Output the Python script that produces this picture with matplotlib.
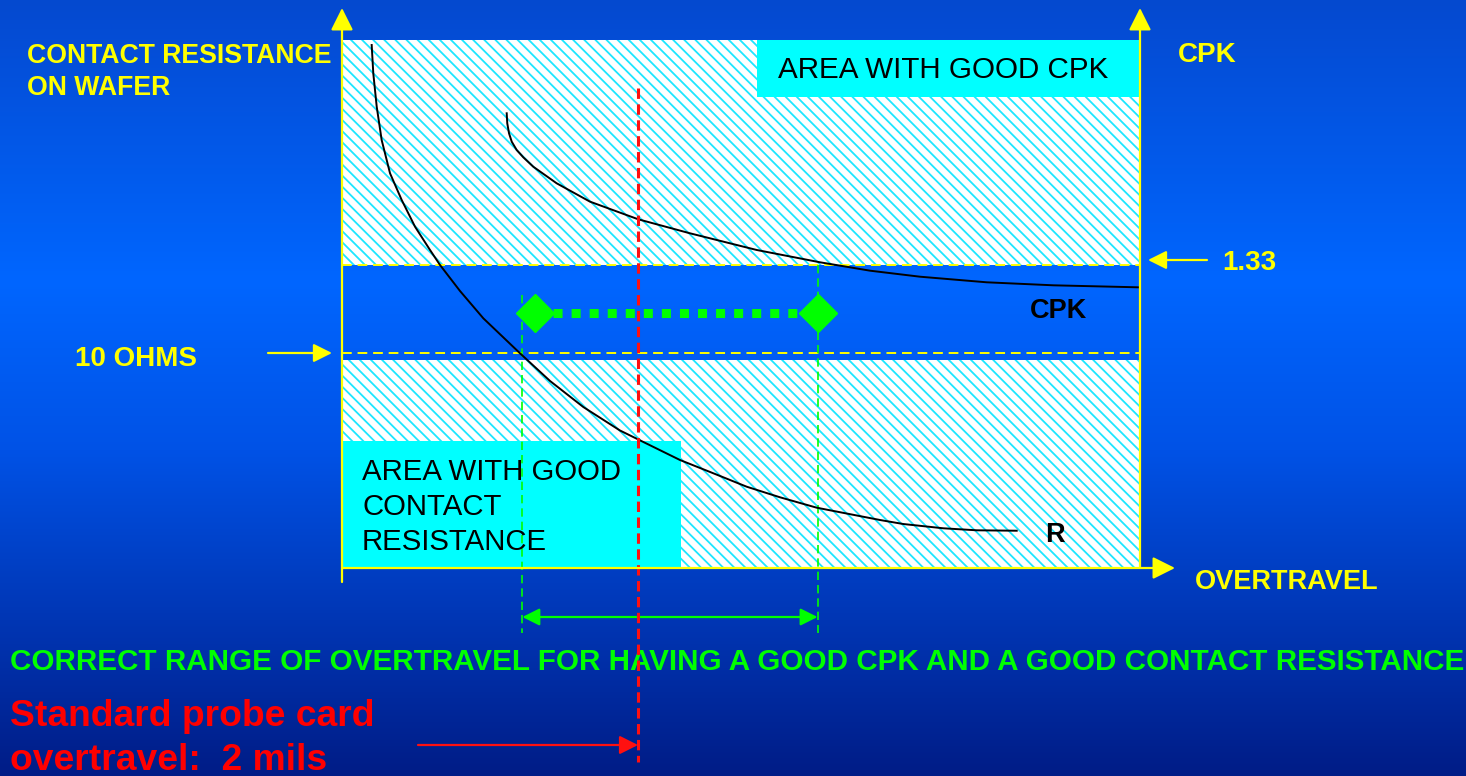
import numpy as np
import matplotlib.pyplot as plt
from matplotlib.patches import Rectangle
from matplotlib.colors import to_rgb

# curves drawn in "chart units": overtravel 0..10 across the frame, level 0..10 up the frame
r_x = [0.372, 0.392, 0.435, 0.497, 0.602, 0.748, 0.915, 1.103, 1.228, 1.479, 1.771,
       2.231, 2.607, 3.024, 3.484, 3.726, 4.236, 4.653, 5.071, 5.489, 5.949, 6.742,
       7.034, 7.535, 7.954, 8.455]
r_y = [9.905, 9.369, 8.737, 8.106, 7.475, 6.970, 6.464, 6.023, 5.739, 5.246, 4.729,
       4.066, 3.542, 3.049, 2.604, 2.424, 2.045, 1.794, 1.540, 1.339, 1.142, 0.909,
       0.833, 0.752, 0.714, 0.706]
cpk_x = [2.064, 2.071, 2.093, 2.127, 2.189, 2.272, 2.397, 2.690, 3.108, 3.713, 4.361,
         5.197, 5.990, 6.617, 7.243, 8.079, 8.914, 9.979]
cpk_y = [8.612, 8.422, 8.233, 8.074, 7.917, 7.778, 7.600, 7.286, 6.938, 6.604, 6.339,
         6.023, 5.790, 5.631, 5.517, 5.411, 5.354, 5.316]

cpk_limit = 5.74      # level of CPK = 1.33
ohm_limit = 4.07      # level of 10 ohms
good_r_top = 3.94     # top of the good contact resistance area
range_lo, range_hi = 2.26, 5.96
standard_ot = 3.71
diamond_x = [2.42, 5.96]
diamond_y = 4.83

W, H = 1466, 776
FL, FR, FT, FB = 342, 1140, 40, 568   # frame in pixels
sx = (FR - FL) / 10.0
sy = (FB - FT) / 10.0


def P(px, py):
    """pixel position -> chart units"""
    return (px - FL) / sx, (FB - py) / sy


fig = plt.figure(figsize=(W / 100, H / 100), dpi=100)
ax = fig.add_axes([0, 0, 1, 1])
x0, y1 = P(0, 0)
x1, y0 = P(W, H)
ax.set_xlim(x0, x1)
ax.set_ylim(y0, y1)
ax.axis('off')

# background gradient
stops_py = [0, 280, 450, H]
stops_c = ['#0549cf', '#0066ff', '#0052e6', '#001c86']
rows = np.arange(H)
rgb = np.array([to_rgb(c) for c in stops_c])
grad = np.stack([np.interp(rows, stops_py, rgb[:, k]) for k in range(3)], axis=-1)
ax.imshow(grad[:, None, :], extent=[x0, x1, y0, y1], aspect='auto', zorder=0,
          interpolation='bilinear')

plt.rcParams['hatch.linewidth'] = 1.3
hatch = '\\\\\\'
cyan = '#00ffff'
stripe = '#1ee6ff'

# hatched areas
ax.add_patch(Rectangle((0, cpk_limit), 10, 10 - cpk_limit, facecolor='white',
                       edgecolor=stripe, hatch=hatch, linewidth=0, zorder=1))
ax.add_patch(Rectangle((0, 0), 10, good_r_top, facecolor='white',
                       edgecolor=stripe, hatch=hatch, linewidth=0, zorder=1))

# cyan label boxes
bx, by = P(757, 97)
ax.add_patch(Rectangle((bx, by), 10 - bx, 10 - by, facecolor=cyan, linewidth=0, zorder=2))
bx2, by2 = P(681, 441)
ax.add_patch(Rectangle((0, 0), bx2, by2, facecolor=cyan, linewidth=0, zorder=2))

sans = ['Liberation Sans', 'DejaVu Sans']
ax.text(*P(778, 70), 'AREA WITH GOOD CPK', fontsize=21.3, family=sans,
        va='center', ha='left', zorder=6)
ax.text(*P(362, 507), 'AREA WITH GOOD\nCONTACT\nRESISTANCE', fontsize=21.2,
        family=sans, va='center', ha='left', linespacing=1.3, zorder=6)

# threshold lines
ax.plot([0, 10], [cpk_limit, cpk_limit], color='yellow', lw=1.4,
        linestyle=(0, (5, 3)), zorder=3)
ax.plot([0, 10], [ohm_limit, ohm_limit], color='yellow', lw=1.4,
        linestyle=(0, (5, 3)), zorder=3)

# curves
ax.plot(r_x, r_y, color='black', lw=1.4, zorder=5, solid_joinstyle='round')
ax.plot(cpk_x, cpk_y, color='black', lw=1.4, zorder=5, solid_joinstyle='round')

# green range markers
green = '#00ff00'
ax.plot([range_lo, range_lo], [P(0, 295)[1], P(0, 633)[1]], color=green, lw=1.2,
        linestyle=(0, (5, 3)), zorder=4)
ax.plot([range_hi, range_hi], [cpk_limit, P(0, 633)[1]], color=green, lw=1.2,
        linestyle=(0, (5, 3)), zorder=4)
ax.plot(diamond_x, [diamond_y, diamond_y], color=green, lw=6.5,
        linestyle=(0, (1, 1)), dash_capstyle='butt', zorder=6)
ax.plot(diamond_x, [diamond_y, diamond_y], linestyle='none', marker='D',
        markersize=19, color=green, zorder=7)
ya = P(0, 617)[1]
ax.annotate('', xy=(range_lo, ya), xytext=(range_hi, ya), zorder=6,
            arrowprops=dict(arrowstyle='<|-|>', color=green, lw=1.6,
                            mutation_scale=26, shrinkA=0, shrinkB=0))

# red standard overtravel line
ax.plot([standard_ot, standard_ot], [P(0, 88)[1], P(0, 762)[1]], color='#ff1010',
        lw=2.2, linestyle=(0, (3.4, 1.8)), zorder=6)
yr = P(0, 745)[1]
ax.annotate('', xy=(standard_ot, yr), xytext=(P(418, 0)[0], yr), zorder=6,
            arrowprops=dict(arrowstyle='-|>', color='#ff1010', lw=1.6,
                            mutation_scale=28, shrinkA=0, shrinkB=0))

# yellow axes
yel = '#ffff00'
head = dict(arrowstyle='-|>', color=yel, lw=1.6, shrinkA=0, shrinkB=0)
ax.annotate('', xy=P(FL, 8), xytext=P(FL, 582), zorder=8,
            arrowprops=dict(mutation_scale=34, **head))
ax.annotate('', xy=P(FR, 8), xytext=P(FR, FB), zorder=8,
            arrowprops=dict(mutation_scale=34, **head))
ax.annotate('', xy=P(1175, FB), xytext=P(FL, FB), zorder=8,
            arrowprops=dict(mutation_scale=34, **head))
ax.annotate('', xy=P(1148, 260), xytext=P(1207, 260), zorder=8,
            arrowprops=dict(mutation_scale=28, **head))
ax.annotate('', xy=P(332, 353), xytext=P(268, 353), zorder=8,
            arrowprops=dict(mutation_scale=28, **head))

# labels
bold = dict(family=sans, fontweight='bold', va='center', ha='left')
ax.text(*P(27, 72), 'CONTACT RESISTANCE\nON WAFER', color=yel, fontsize=19.2,
        linespacing=1.32, **bold)
ax.text(*P(1178, 55), 'CPK', color=yel, fontsize=20, **bold)
ax.text(*P(1222, 263), '1.33', color=yel, fontsize=20, **bold)
ax.text(*P(75, 359), '10 OHMS', color=yel, fontsize=20, **bold)
ax.text(*P(1195, 582), 'OVERTRAVEL', color=yel, fontsize=19.5, **bold)
ax.text(*P(1030, 311), 'CPK', color='black', fontsize=19.5, **bold)
ax.text(*P(1045, 535), 'R', color='black', fontsize=19.5, **bold)
ax.text(*P(10, 662), 'CORRECT RANGE OF OVERTRAVEL FOR HAVING A GOOD CPK AND A GOOD CONTACT RESISTANCE',
        color=green, fontsize=21.3, **bold)
ax.text(*P(10, 717), 'Standard probe card', color='#ff0000', fontsize=26.8, **bold)
ax.text(*P(10, 760), 'overtravel:  2 mils', color='#ff0000', fontsize=26.8, **bold)

fig.savefig('out.png', dpi=100)
